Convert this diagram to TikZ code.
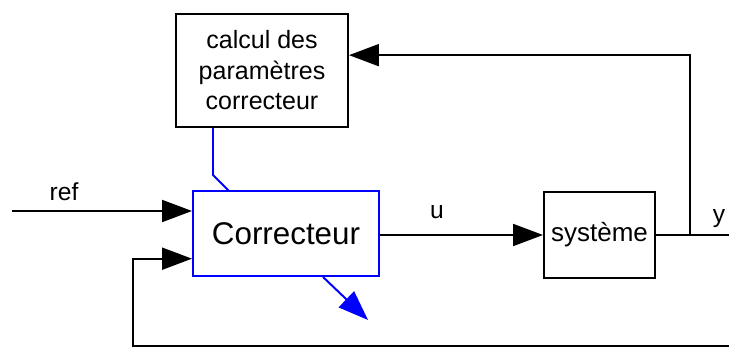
\documentclass[tikz,border=0pt]{standalone}
\usepackage{fontspec}
\setmainfont{Liberation Sans}
\usetikzlibrary{arrows.meta}

\tikzset{bloc/.style={draw,line width=1.4pt,inner sep=0pt},
fleche/.style={line width=1.4pt,-{Triangle[length=0.75cm,width=0.55cm]}},
etiq/.style={font=\fontsize{17.5}{21}\selectfont}}

\begin{document}
\begin{tikzpicture}
\useasboundingbox (0,0) rectangle (18.225,8.725);

\node[bloc,minimum width=4.3cm,minimum height=2.825cm,align=center,font=\fontsize{17.8}{21.7}\selectfont] (calcul) at (6.55,6.9625) {calcul des\\paramètres\\correcteur};
\node[bloc,draw=blue,minimum width=4.65cm,minimum height=2.125cm,font=\fontsize{22.3}{26}\selectfont] (corr) at (7.15,2.8875) {Correcteur};
\node[bloc,minimum width=2.775cm,minimum height=2.15cm,font=\fontsize{18.5}{22}\selectfont] (sys) at (14.9875,2.85) {système};

\node[etiq] (ref) at (1.6,3.94) {ref};
\node[etiq] (u) at (10.925,3.425) {u};
\node[etiq] (y) at (17.975,3.25) {y};

\coordinate (entree) at (0.3,3.45);
\coordinate (noeud) at (17.25,2.85);
\coordinate (sortie) at (18.225,2.85);
\coordinate (retour) at (18.225,0.075);
\coordinate (gauche) at (3.325,0.075);
\coordinate (coude) at (5.325,4.35);
\coordinate (pied) at (5.725,3.95);
\coordinate (adapt) at (9.2,0.725);

\draw[fleche] (entree) -- (entree -| corr.west);
\draw[fleche] (corr.east |- sys.west) -- (sys.west);
\draw[line width=1.4pt] (sys.east) -- (sortie);
\draw[fleche] (noeud) |- (calcul.10);
\draw[fleche] (retour) -- (gauche) |- (corr.195);

\draw[blue,line width=1.4pt] (calcul.south -| coude) -- (coude) -- (pied);
\draw[fleche,blue] ([xshift=0.925cm]corr.south) -- (adapt);
\end{tikzpicture}
\end{document}
